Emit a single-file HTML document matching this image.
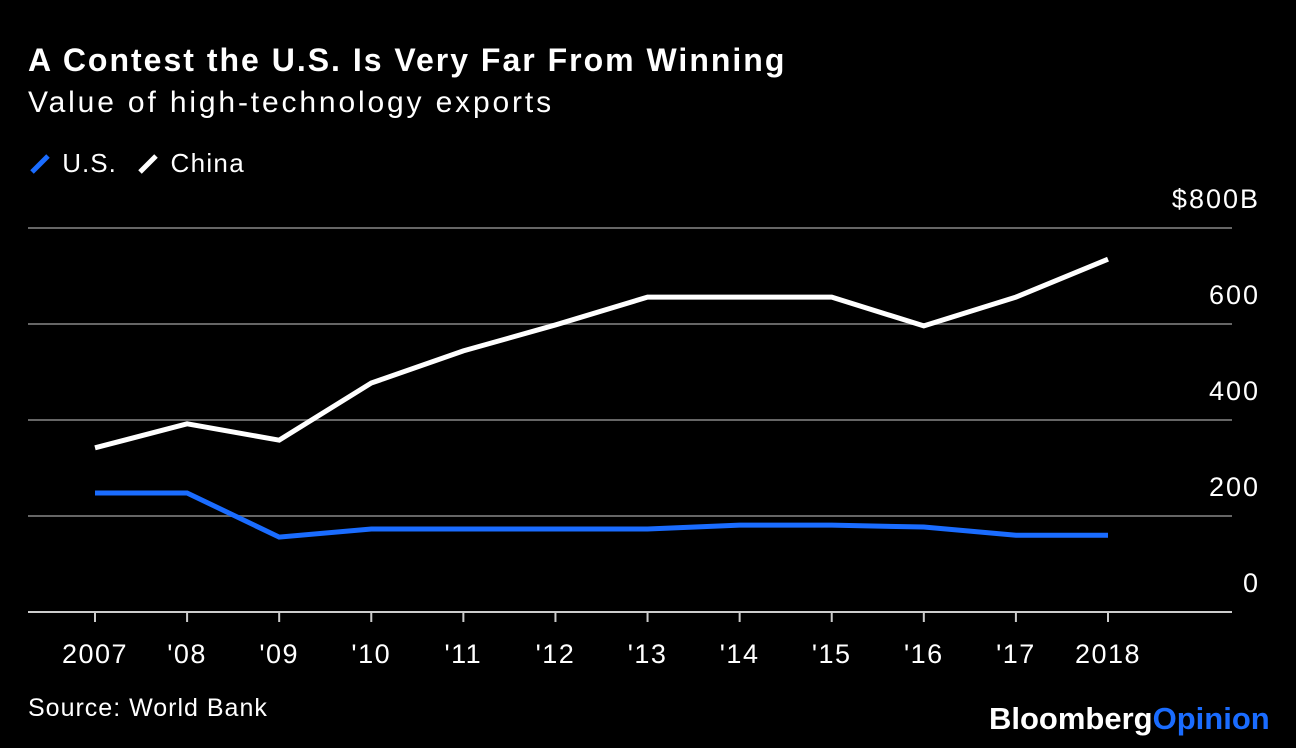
<!DOCTYPE html>
<html><head><meta charset="utf-8">
<style>
html,body{margin:0;padding:0;background:#000;}
body{width:1296px;height:748px;overflow:hidden;font-family:"Liberation Sans",Arial,sans-serif;color:#fff;position:relative;}
.t{position:absolute;white-space:nowrap;}
</style></head><body>
<div class="t" style="left:28px;top:42px;font-size:32px;font-weight:bold;letter-spacing:2px">A Contest the U.S. Is Very Far From Winning</div>
<div class="t" style="left:28px;top:86px;font-size:30px;letter-spacing:2.85px">Value of high-technology exports</div>
<div class="t" style="left:28px;top:148px;font-size:26px;letter-spacing:1px"><svg width="26" height="26" style="vertical-align:-4px"><line x1="4" y1="22" x2="20" y2="6" stroke="#1a6cff" stroke-width="5"/></svg> U.S.</div>
<div class="t" style="left:136px;top:148px;font-size:26px;letter-spacing:1.3px"><svg width="26" height="26" style="vertical-align:-4px"><line x1="4" y1="22" x2="20" y2="6" stroke="#fff" stroke-width="5"/></svg> China</div>
<svg id="chart" width="1296" height="748" style="position:absolute;left:0;top:0"></svg>
<div class="t" style="left:28px;top:694px;font-size:25px;letter-spacing:1px">Source: World Bank</div>
<div class="t" style="left:989px;top:701px;font-size:31px;font-weight:bold;letter-spacing:0px"><span style="color:#fff">Bloomberg</span><span style="color:#1a6cff">Opinion</span></div>
<script>
const years=["2007","'08","'09","'10","'11","'12","'13","'14","'15","'16","'17","2018"];
const china=[342,392,358,477,544,598,656,656,656,596,656,735];
const us=[248,248,156,173,173,173,173,181,181,177,160,160];
const yTicks=[0,200,400,600,800];
const yLabels=["0","200","400","600","$800B"];
const svg=document.getElementById('chart');
const NS='http://www.w3.org/2000/svg';
const x=i=>95+i*(1108-95)/(years.length-1);
const y=v=>612-v*0.48;
function mk(t,a){const e=document.createElementNS(NS,t);for(const k in a)e.setAttribute(k,a[k]);svg.appendChild(e);return e;}
yTicks.forEach((v,i)=>{
  const g=mk('line',{x1:28,x2:1232,y1:y(v),y2:y(v),stroke:v===0?'#ccc':'#666','stroke-width':2});
  
  
  const t=mk('text',{x:1260,y:y(v)-20,'text-anchor':'end','font-size':27,'letter-spacing':2,fill:'#fff','font-family':'Liberation Sans, sans-serif'});
  t.textContent=yLabels[i];
  
  
});
years.forEach((yr,i)=>{
  const tk=mk('line',{x1:x(i),x2:x(i),y1:612,y2:622,stroke:'#ccc','stroke-width':2});
  
  
  const t=mk('text',{x:x(i),y:663,'text-anchor':'middle','font-size':27,'letter-spacing':1.5,fill:'#fff','font-family':'Liberation Sans, sans-serif'});
  t.textContent=yr;
  
  
});
function line(d,c,n){
  const p=mk('polyline',{points:d.map((v,i)=>x(i)+','+y(v)).join(' '),fill:'none',stroke:c,'stroke-width':5,'stroke-linejoin':'miter'});
  
  
}
line(china,'#fff','china-line');
line(us,'#1a6cff','us-line');
</script>
</body></html>
